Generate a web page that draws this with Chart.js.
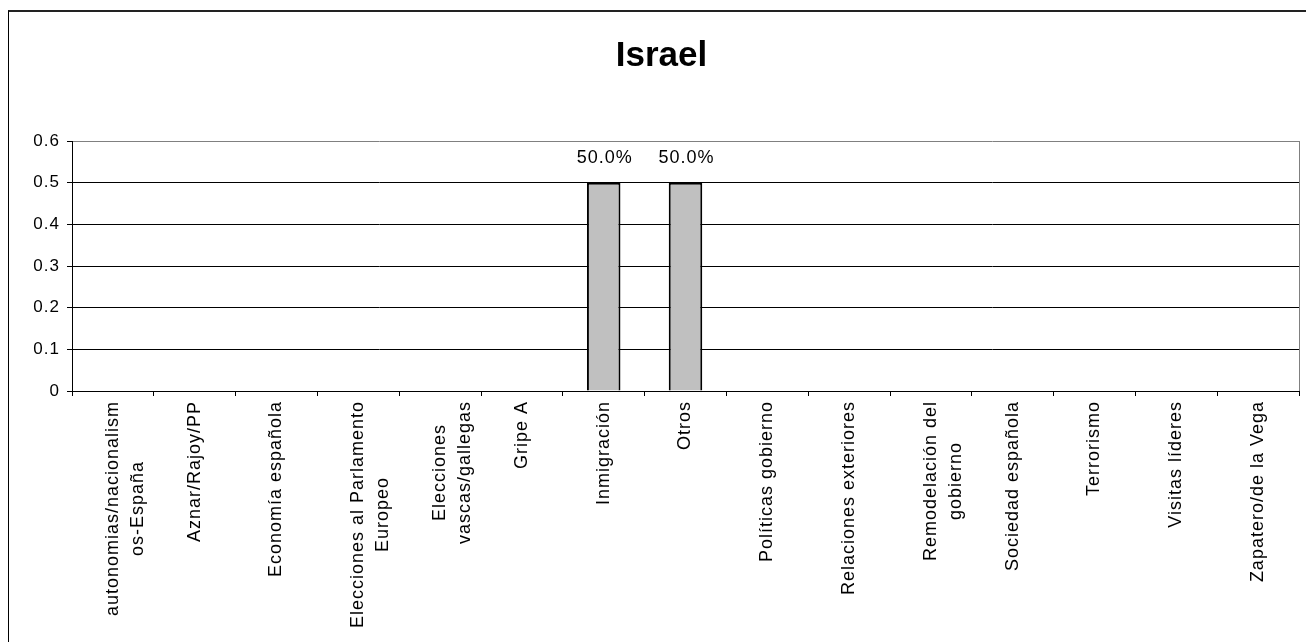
<!DOCTYPE html>
<html>
<head>
<meta charset="utf-8">
<script src="https://cdn.jsdelivr.net/npm/chart.js@4.4.1/dist/chart.umd.min.js"></script>
<style>
html, body { margin: 0; padding: 0; background: #fff; overflow: hidden; }
#frame { position: absolute; left: 8px; top: 10px; width: 1400px; height: 700px;
         border-top: 2px solid #222; border-left: 1px solid #000; }
#wrap { position: absolute; left: 0; top: 0; width: 1306px; height: 642px; }
</style>
</head>
<body>
<div id="frame"></div>
<div id="wrap"><canvas id="chart" width="1306" height="642"></canvas></div>
<script>
const chartTitle = 'Israel';
const categories = [
    ['autonomias/nacionalism', 'os-España'],
    'Aznar/Rajoy/PP',
    'Economía española',
    ['Elecciones al Parlamento', 'Europeo'],
    ['Elecciones', 'vascas/gallegas'],
    'Gripe A',
    'Inmigración',
    'Otros',
    'Políticas gobierno',
    'Relaciones exteriores',
    ['Remodelación del', 'gobierno'],
    'Sociedad española',
    'Terrorismo',
    'Visitas líderes',
    'Zapatero/de la Vega'
];
const shares = [0, 0, 0, 0, 0, 0, 0.5, 0.5, 0, 0, 0, 0, 0, 0, 0];
const yTickLabels = ['0', '0.1', '0.2', '0.3', '0.4', '0.5', '0.6'];

const family = '"Liberation Sans", Arial, sans-serif';
const tickFont = '18px ' + family;
const spacing = '1px';

// the old excel export has wide-set glyphs, letterSpacing gets close
function centerLines(chart) {
    let ctx = chart.ctx;
    let items = chart.scales.x.getLabelItems();
    ctx.save();
    ctx.font = tickFont;
    ctx.letterSpacing = spacing;
    for (let it of items) {
        if (it._centered || !Array.isArray(it.label)) continue;
        let w = Math.max(...it.label.map(s => ctx.measureText(s).width));
        it.options.textAlign = 'center';
        it.options.translation[1] += w / 2;
        it._centered = true;
    }
    ctx.restore();
}

const textLook = {
    id: 'textLook',
    afterInit(chart) {
        let t = chart.titleBlock;
        if (t) {
            let draw = t.draw.bind(t);
            t.draw = function (area) {
                chart.ctx.save();
                chart.ctx.letterSpacing = '0px';
                draw(area);
                chart.ctx.restore();
            };
        }
    },
    beforeLayout(chart) { chart.ctx.letterSpacing = spacing; },
    beforeDraw(chart) {
        chart.ctx.letterSpacing = spacing;
        centerLines(chart);
    }
};

const valueLabels = {
    id: 'valueLabels',
    afterDatasetsDraw(chart) {
        let ctx = chart.ctx;
        let meta = chart.getDatasetMeta(0);
        ctx.save();
        ctx.font = tickFont;
        ctx.letterSpacing = spacing;
        ctx.fillStyle = '#000';
        ctx.textAlign = 'center';
        ctx.textBaseline = 'bottom';
        meta.data.forEach((bar, i) => {
            let v = shares[i];
            if (!v) return;
            ctx.fillText((v * 100).toFixed(1) + '%', bar.x + 1, bar.y - 16);
        });
        ctx.restore();
    }
};

new Chart(document.getElementById('chart'), {
    type: 'bar',
    data: {
        labels: categories,
        datasets: [{
            data: shares,
            backgroundColor: '#C0C0C0',
            borderColor: '#000',
            borderWidth: 2,
            barPercentage: 0.41,
            categoryPercentage: 1
        }]
    },
    options: {
        responsive: false,
        animation: false,
        devicePixelRatio: 1,
        layout: { padding: { top: 0, right: 7, bottom: 0, left: 24 } },
        plugins: {
            legend: { display: false },
            tooltip: { enabled: false },
            title: {
                display: true,
                text: chartTitle,
                color: '#000',
                font: { family: family, size: 35, weight: 'bold' },
                padding: { top: 35, bottom: 64 }
            }
        },
        scales: {
            x: {
                offset: true,
                grid: {
                    offset: true,
                    color: c => c.type === 'scale' ? '#808080' : 'rgba(0,0,0,0)',
                    tickColor: '#000',
                    tickLength: 5
                },
                border: { color: '#000' },
                ticks: {
                    color: '#000',
                    font: { family: family, size: 18, lineHeight: 1.4 },
                    minRotation: 90,
                    maxRotation: 90,
                    autoSkip: false,
                    padding: 5
                },
                afterFit(s) { s.height = 251; }
            },
            y: {
                min: 0,
                max: 0.6,
                grid: {
                    color: c => c.index === yTickLabels.length - 1 ? '#808080' : '#000',
                    tickColor: '#000',
                    tickLength: 5
                },
                border: { color: '#000' },
                ticks: {
                    stepSize: 0.1,
                    color: '#000',
                    font: { family: family, size: 17 },
                    padding: 7,
                    callback: (v, i) => yTickLabels[i]
                },
                afterFit(s) { s.width = 48; }
            }
        }
    },
    plugins: [textLook, valueLabels]
});
</script>
</body>
</html>
